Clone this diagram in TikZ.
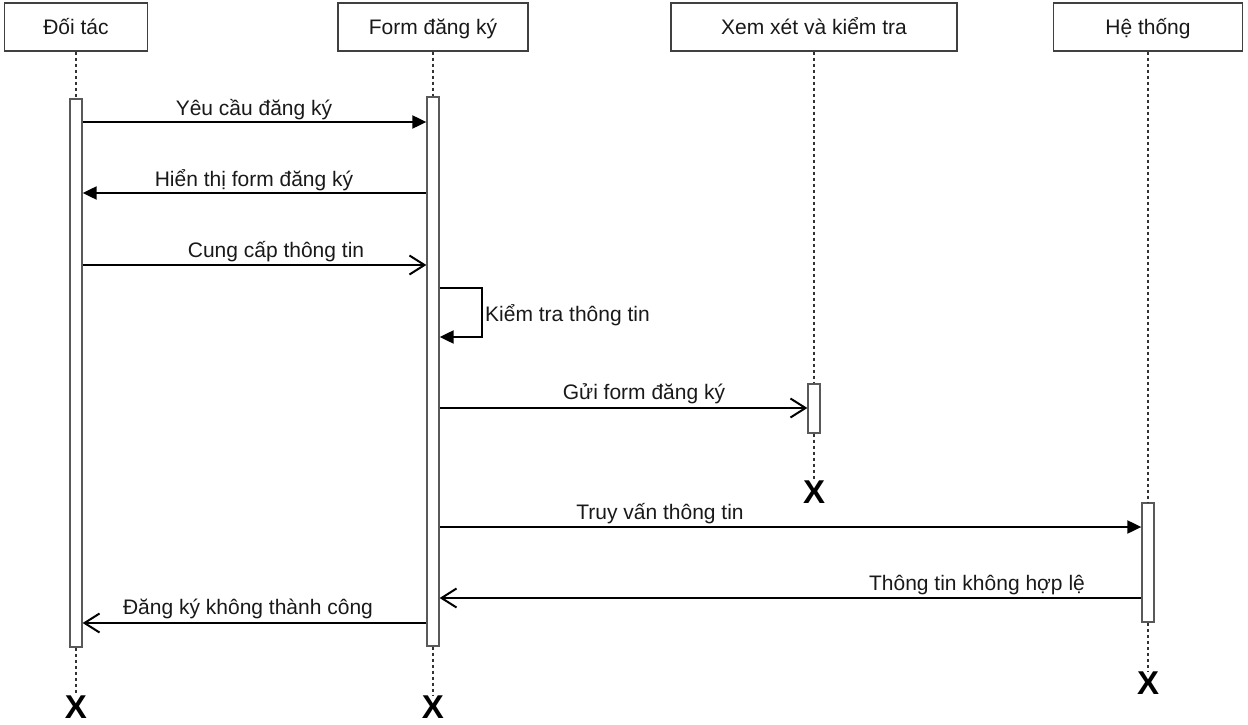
\documentclass[tikz,border=0pt]{standalone}
\usepackage{fontspec}
\setmainfont{Liberation Sans}
\usetikzlibrary{arrows.meta}
\begin{document}
\begin{tikzpicture}[x=1pt,y=-1pt,
  font=\fontsize{21}{25}\selectfont,
  part/.style={draw=black!75, line width=1.3pt, fill=white, minimum height=48pt, inner sep=0pt, text height=20pt, text depth=4pt, text=black!90},
  act/.style={draw=black!65, line width=1.3pt, fill=white, minimum width=12pt, inner sep=0pt},
  life/.style={draw=black!80, line width=1.2pt, dash pattern=on 3pt off 3pt},
  msgf/.style={line width=2pt, -{Triangle[length=14pt,width=13pt]}},
  msgo/.style={line width=2pt, -{Straight Barb[length=15pt,width=19pt,line width=2pt]}},
  kill/.style={font=\fontsize{33}{33}\selectfont\bfseries, inner sep=0pt},
  lbl/.style={anchor=base, inner sep=0pt, text=black!90}]
\useasboundingbox (0,0) rectangle (1248,725);
% participants
\node[part, minimum width=143pt] (p1) at (76,27) {Đối tác};
\node[part, minimum width=190pt] (p2) at (433,27) {Form đăng ký};
\node[part, minimum width=286pt] (p3) at (814,27) {Xem xét và kiểm tra};
\node[part, minimum width=189pt] (p4) at (1148,27) {Hệ thống};
% activation bars
\node[act, minimum height=548pt] (a1) at (76,373) {};
\node[act, minimum height=549pt] (a2) at (433,371.5) {};
\node[act, minimum height=49pt] (a3) at (814,408.5) {};
\node[act, minimum height=119pt] (a4) at (1148,562.5) {};
% destruction marks
\node[kill] (x1) at (76,707) {X};
\node[kill] (x2) at (433,707) {X};
\node[kill] (x3) at (814,492) {X};
\node[kill] (x4) at (1148,683) {X};
% lifelines
\draw[life] (p1.south) -- (a1.north);
\draw[life] (a1.south) -- (x1.north);
\draw[life] (p2.south) -- (a2.north);
\draw[life] (a2.south) -- (x2.north);
\draw[life] (p3.south) -- (a3.north);
\draw[life] (a3.south) -- (x3.north);
\draw[life] (p4.south) -- (a4.north);
\draw[life] (a4.south) -- (x4.north);
% message levels
\coordinate (m1) at (0,122);
\coordinate (m2) at (0,193);
\coordinate (m3) at (0,265);
\coordinate (m4a) at (0,288);
\coordinate (m4b) at (0,337);
\coordinate (m5) at (0,408);
\coordinate (m6) at (0,527);
\coordinate (m7) at (0,598);
\coordinate (m8) at (0,623);
% messages
\draw[msgf] (a1.east |- m1) -- (a2.west |- m1);
\draw[msgf] (a2.west |- m2) -- (a1.east |- m2);
\draw[msgo] (a1.east |- m3) -- (a2.west |- m3);
\draw[msgf] (a2.east |- m4a) -- ++(42,0) -- ++(0,49) -- (a2.east |- m4b);
\draw[msgo] (a2.east |- m5) -- (a3.west |- m5);
\draw[msgf] (a2.east |- m6) -- (a4.west |- m6);
\draw[msgo] (a4.west |- m7) -- (a2.east |- m7);
\draw[msgo] (a2.west |- m8) -- (a1.east |- m8);
% labels
\node[lbl] at (254,115) {Yêu cầu đăng ký};
\node[lbl] at (254,186) {Hiển thị form đăng ký};
\node[lbl] at (276,257) {Cung cấp thông tin};
\node[lbl, anchor=base west] at (485,321) {Kiểm tra thông tin};
\node[lbl] at (644,399) {Gửi form đăng ký};
\node[lbl] at (660,519) {Truy vấn thông tin};
\node[lbl] at (977,590) {Thông tin không hợp lệ};
\node[lbl] at (248,614) {Đăng ký không thành công};
\end{tikzpicture}
\end{document}
